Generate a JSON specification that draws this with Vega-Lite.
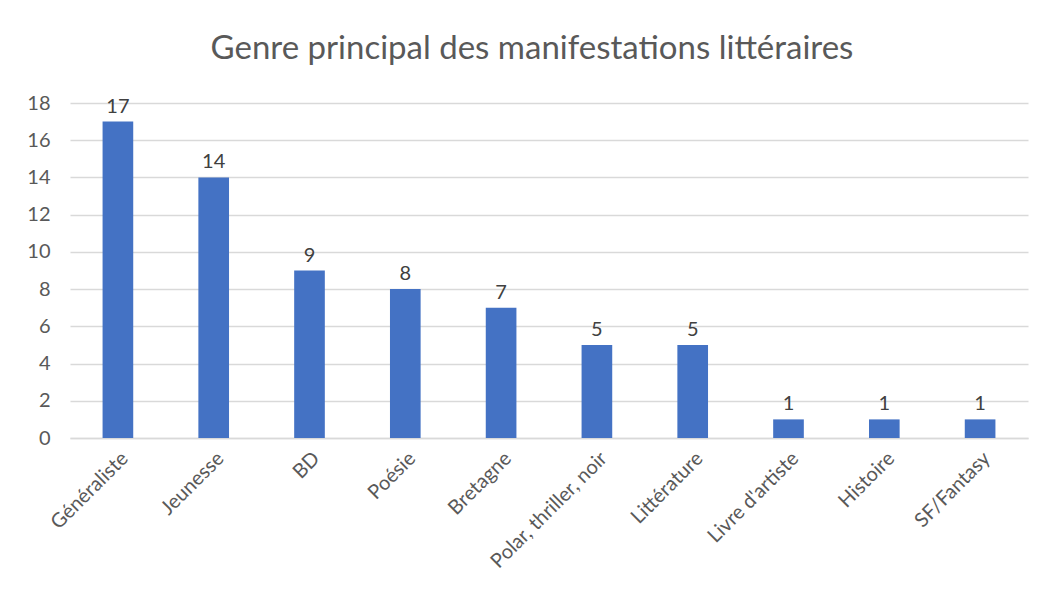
{
  "$schema": "https://vega.github.io/schema/vega-lite/v6.json",
  "width": 958,
  "height": 335,
  "autosize": {"type": "none"},
  "padding": {"left": 70, "top": 103, "right": 22, "bottom": 166},
  "background": "white",
  "title": {
    "text": "Genre principal des manifestations littéraires",
    "font": "Lato",
    "fontSize": 33,
    "fontWeight": "normal",
    "color": "#595959",
    "anchor": "middle",
    "dx": -17,
    "offset": 27
  },
  "data": {
    "values": [
      {"genre": "Généraliste", "n": 17},
      {"genre": "Jeunesse", "n": 14},
      {"genre": "BD", "n": 9},
      {"genre": "Poésie", "n": 8},
      {"genre": "Bretagne", "n": 7},
      {"genre": "Polar, thriller, noir", "n": 5},
      {"genre": "Littérature", "n": 5},
      {"genre": "Livre d'artiste", "n": 1},
      {"genre": "Histoire", "n": 1},
      {"genre": "SF/Fantasy", "n": 1}
    ]
  },
  "encoding": {
    "x": {
      "field": "genre",
      "type": "nominal",
      "sort": null,
      "scale": {"paddingInner": 0.68, "paddingOuter": 0.34},
      "axis": {
        "title": null,
        "labelAngle": -45,
        "labelFont": "Lato",
        "labelFontSize": 20,
        "labelColor": "#595959",
        "ticks": false,
        "domainColor": "#D9D9D9",
        "domainWidth": 1.5,
        "labelPadding": 10
      }
    },
    "y": {
      "field": "n",
      "type": "quantitative",
      "scale": {"domain": [0, 18]},
      "axis": {
        "title": null,
        "values": [0, 2, 4, 6, 8, 10, 12, 14, 16, 18],
        "labelFont": "Lato",
        "labelFontSize": 20,
        "labelColor": "#595959",
        "ticks": false,
        "domain": false,
        "gridColor": "#D9D9D9",
        "gridWidth": 1.3,
        "labelPadding": 20
      }
    }
  },
  "layer": [
    {"mark": {"type": "bar", "color": "#4472C4"}},
    {
      "mark": {
        "type": "text",
        "baseline": "bottom",
        "dy": -5,
        "font": "Lato",
        "fontSize": 20,
        "color": "#404040"
      },
      "encoding": {"text": {"field": "n", "type": "quantitative"}}
    }
  ],
  "config": {"view": {"stroke": null}}
}
